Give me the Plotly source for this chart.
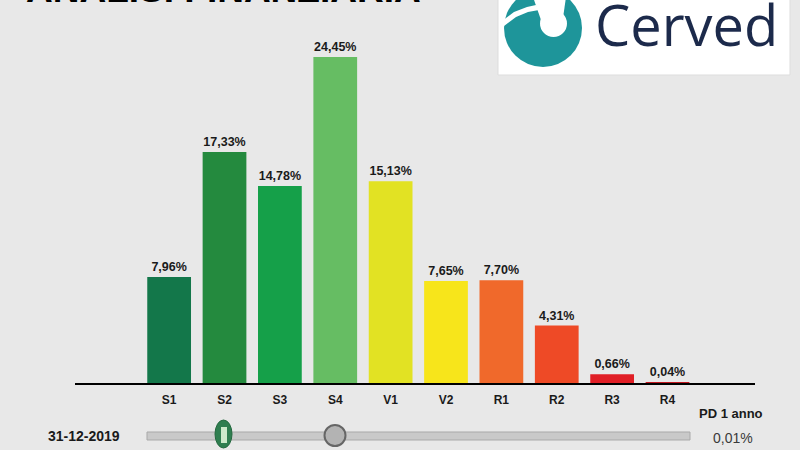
import plotly.graph_objects as go

# ---- data ----
categories = ["S1", "S2", "S3", "S4", "V1", "V2", "R1", "R2", "R3", "R4"]
values = [7.96, 17.33, 14.78, 24.45, 15.13, 7.65, 7.70, 4.31, 0.66, 0.04]
value_labels = ["7,96%", "17,33%", "14,78%", "24,45%", "15,13%",
                "7,65%", "7,70%", "4,31%", "0,66%", "0,04%"]
bar_colors = ["#13774a", "#248a3e", "#15a049", "#66bd63", "#e2e223",
              "#f7e51b", "#f0692b", "#ee4a26", "#e01f26", "#c0171f"]
title_text = "ANALISI FINANZIARIA"
logo_text = "Cerved"
date_label = "31-12-2019"
pd_label = "PD 1 anno"
pd_value = "0,01%"

# ---- layout helpers (pixel -> paper) ----
W, H = 800, 450
ML, MR, MT, MB = 75, 45, 40, 67
PW = W - ML - MR
PH = H - MT - MB


def fx(px):
    return (px - ML) / PW


def fy(py):
    return (H - MB - py) / PH


def ppath(points):
    s = "M {:.5f},{:.5f}".format(fx(points[0][0]), fy(points[0][1]))
    for p in points[1:]:
        s += " L {:.5f},{:.5f}".format(fx(p[0]), fy(p[1]))
    return s + " Z"


BG = "#e8e8e8"
FONT = "Liberation Sans, Arial, sans-serif"
TEAL = "#1e959a"

fig = go.Figure()
fig.add_trace(go.Bar(
    x=categories, y=values, width=0.79,
    marker=dict(color=bar_colors, line=dict(width=0)),
    text=value_labels, textposition="outside",
    textfont=dict(family=FONT, size=12.5, color="#1a1a1a", weight="bold"),
    cliponaxis=False, hoverinfo="skip",
))

shapes = []
# slider track
shapes.append(dict(type="rect", xref="paper", yref="paper",
                   x0=fx(147), x1=fx(690), y0=fy(440), y1=fy(432),
                   fillcolor="#c9c9c9", line=dict(color="#a9a9a9", width=1)))
# green handle
shapes.append(dict(type="circle", xref="paper", yref="paper",
                   x0=fx(215), x1=fx(232), y0=fy(448), y1=fy(420),
                   fillcolor="#2f7e50", line=dict(color="#24693f", width=1)))
shapes.append(dict(type="rect", xref="paper", yref="paper",
                   x0=fx(221), x1=fx(227), y0=fy(443), y1=fy(427),
                   fillcolor="#cde9cb", line=dict(width=0)))
# grey handle
shapes.append(dict(type="circle", xref="paper", yref="paper",
                   x0=fx(324.5), x1=fx(345.5), y0=fy(446), y1=fy(425),
                   fillcolor="#b3b3b3", line=dict(color="#666666", width=2)))
# logo box
shapes.append(dict(type="rect", xref="paper", yref="paper",
                   x0=fx(498), x1=fx(790), y0=fy(75), y1=fy(-5),
                   fillcolor="#ffffff", line=dict(color="#dddddd", width=1)))
# logo emblem
shapes.append(dict(type="circle", xref="paper", yref="paper",
                   x0=fx(504), x1=fx(582), y0=fy(67), y1=fy(-11),
                   fillcolor=TEAL, line=dict(width=0)))
shapes.append(dict(type="circle", xref="paper", yref="paper",
                   x0=fx(540), x1=fx(567), y0=fy(37), y1=fy(10),
                   fillcolor="#ffffff", line=dict(width=0)))
shapes.append(dict(type="path", xref="paper", yref="paper",
                   path=ppath([(533, -3), (566, -3), (563, 18), (541, 20)]),
                   fillcolor="#ffffff", line=dict(width=0)))
shapes.append(dict(type="path", xref="paper", yref="paper",
                   path=ppath([(502, 21), (514, 12), (527, 7), (536, 5), (539, 10),
                               (528, 12), (516, 17), (504, 26)]),
                   fillcolor="#ffffff", line=dict(width=0)))

annotations = [
    dict(text=title_text, xref="paper", yref="paper", x=fx(24), y=fy(-11),
         xanchor="left", yanchor="middle", showarrow=False,
         font=dict(family=FONT, size=37, color="#000000", weight="bold")),
    dict(text=logo_text, xref="paper", yref="paper", x=fx(593), y=fy(24),
         xanchor="left", yanchor="middle", showarrow=False,
         font=dict(family="Open Sans, sans-serif", size=56, color="#1c2a4b")),
    dict(text=date_label, xref="paper", yref="paper", x=fx(84), y=fy(436),
         xanchor="center", yanchor="middle", showarrow=False,
         font=dict(family=FONT, size=14, color="#1a1a1a", weight="bold")),
    dict(text=pd_label, xref="paper", yref="paper", x=fx(731), y=fy(413),
         xanchor="center", yanchor="middle", showarrow=False,
         font=dict(family=FONT, size=13, color="#1a1a1a", weight="bold")),
    dict(text=pd_value, xref="paper", yref="paper", x=fx(733), y=fy(438),
         xanchor="center", yanchor="middle", showarrow=False,
         font=dict(family=FONT, size=14, color="#3a3a3a")),
]

fig.update_layout(
    width=W, height=H,
    margin=dict(l=ML, r=MR, t=MT, b=MB, pad=0),
    paper_bgcolor=BG, plot_bgcolor=BG,
    showlegend=False,
    shapes=shapes, annotations=annotations,
    xaxis=dict(type="category", range=[-1.7, 10.58], showline=True,
               linecolor="#000000", linewidth=2, showgrid=False, zeroline=False,
               ticks="outside", ticklen=5, tickcolor="rgba(0,0,0,0)",
               tickfont=dict(family=FONT, size=12, color="#1a1a1a", weight="bold"),
               fixedrange=True),
    yaxis=dict(range=[0, 25.73], visible=False, fixedrange=True),
)

fig.write_html("out.html", config={"displayModeBar": False})
